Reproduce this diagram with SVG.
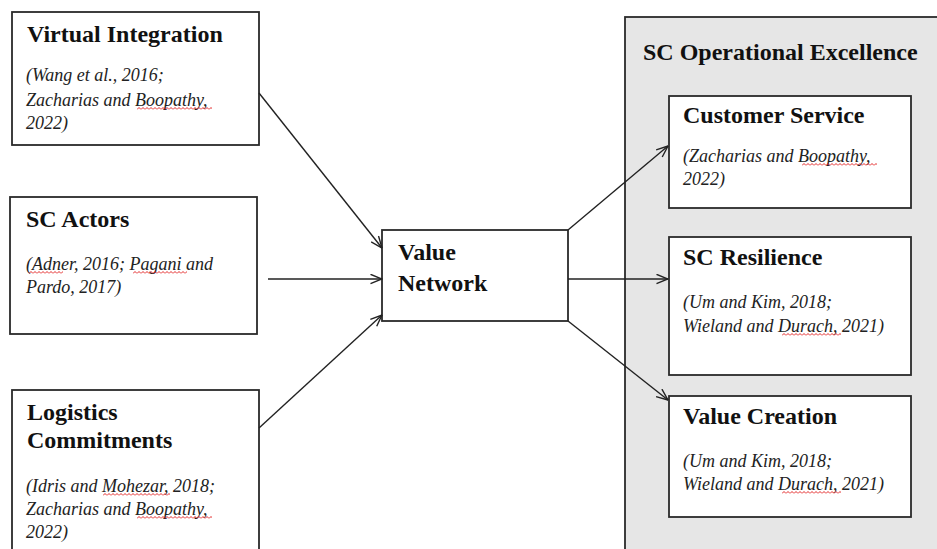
<svg xmlns="http://www.w3.org/2000/svg" width="937" height="549" viewBox="0 0 937 549">
  <style>
    .box { fill: #ffffff; stroke: #2a2a2a; stroke-width: 1.8; }
    .panel { fill: #e6e6e6; stroke: #2a2a2a; stroke-width: 1.8; }
    .title { font-family: "Liberation Serif", "Times New Roman", serif; font-weight: bold; font-size: 24px; fill: #111; }
    .cite { font-family: "Liberation Serif", "Times New Roman", serif; font-style: italic; font-size: 18px; fill: #222; }
    .conn { stroke: #222; stroke-width: 1.4; fill: none; marker-end: url(#arrow); }
    .sq { fill: url(#wave); }
  </style>
  <defs>
    <marker id="arrow" markerUnits="userSpaceOnUse" viewBox="0 0 13 11" refX="12.5" refY="5.5" markerWidth="13" markerHeight="11" orient="auto">
      <path d="M1,0.8 L12.5,5.5 L1,10.2" fill="none" stroke="#222" stroke-width="1.4"/>
    </marker>
    <!-- red spell-check wave used under flagged words -->
    <pattern id="wave" patternUnits="userSpaceOnUse" width="4" height="3">
      <path d="M0,2.5 L2,0.5 L4,2.5" fill="none" stroke="#e01010" stroke-width="0.9"/>
    </pattern>
  </defs>

  <rect width="937" height="549" fill="#ffffff"/>

  <!-- outcome panel -->
  <g id="sc-operational-excellence">
    <rect class="panel" x="625" y="17" width="330" height="560"/>
    <text class="title" x="643" y="60">SC Operational Excellence</text>
  </g>

  <g id="virtual-integration">
    <rect class="box" x="12" y="12" width="247" height="133"/>
    <text class="title" x="27" y="42">Virtual Integration</text>
    <text class="cite" x="26" y="81">(Wang et al., 2016;</text>
    <text class="cite" x="26" y="106">Zacharias and Boopathy,</text>
    <text class="cite" x="26" y="129">2022)</text>
    <rect class="sq" transform="translate(137,107)" width="75" height="3"/>
  </g>

  <g id="sc-actors">
    <rect class="box" x="10" y="197" width="247" height="137"/>
    <text class="title" x="26" y="227">SC Actors</text>
    <text class="cite" x="26" y="270">(Adner, 2016; Pagani and</text>
    <text class="cite" x="26" y="293">Pardo, 2017)</text>
    <rect class="sq" transform="translate(29,271)" width="34" height="3"/>
    <rect class="sq" transform="translate(133,271)" width="54" height="3"/>
  </g>

  <g id="logistics-commitments">
    <rect class="box" x="12" y="390" width="247" height="180"/>
    <text class="title" x="27" y="420">Logistics</text>
    <text class="title" x="27" y="448">Commitments</text>
    <text class="cite" x="26" y="492">(Idris and Mohezar, 2018;</text>
    <text class="cite" x="26" y="515">Zacharias and Boopathy,</text>
    <text class="cite" x="26" y="538">2022)</text>
    <rect class="sq" transform="translate(103,493)" width="67" height="3"/>
    <rect class="sq" transform="translate(137,516)" width="75" height="3"/>
  </g>

  <g id="value-network">
    <rect class="box" x="382" y="230" width="186" height="91"/>
    <text class="title" x="398" y="260">Value</text>
    <text class="title" x="398" y="291">Network</text>
  </g>

  <g id="customer-service">
    <rect class="box" x="669" y="96" width="242" height="112"/>
    <text class="title" x="683" y="123">Customer Service</text>
    <text class="cite" x="683" y="162">(Zacharias and Boopathy,</text>
    <text class="cite" x="683" y="185">2022)</text>
    <rect class="sq" transform="translate(802,163)" width="75" height="3"/>
  </g>

  <g id="sc-resilience">
    <rect class="box" x="669" y="237" width="242" height="138"/>
    <text class="title" x="683" y="265">SC Resilience</text>
    <text class="cite" x="683" y="308">(Um and Kim, 2018;</text>
    <text class="cite" x="683" y="332">Wieland and Durach, 2021)</text>
    <rect class="sq" transform="translate(782,333)" width="59" height="3"/>
  </g>

  <g id="value-creation">
    <rect class="box" x="669" y="396" width="242" height="121"/>
    <text class="title" x="683" y="424">Value Creation</text>
    <text class="cite" x="683" y="467">(Um and Kim, 2018;</text>
    <text class="cite" x="683" y="490">Wieland and Durach, 2021)</text>
    <rect class="sq" transform="translate(782,491)" width="59" height="3"/>
  </g>

  <g id="connectors">
    <line class="conn" x1="259" y1="93" x2="382" y2="248"/>
    <line class="conn" x1="268" y1="279" x2="382" y2="279"/>
    <line class="conn" x1="259" y1="428" x2="382" y2="315"/>
    <line class="conn" x1="568" y1="230" x2="668" y2="146"/>
    <line class="conn" x1="568" y1="279" x2="668" y2="279"/>
    <line class="conn" x1="568" y1="321" x2="668" y2="400"/>
  </g>
</svg>
